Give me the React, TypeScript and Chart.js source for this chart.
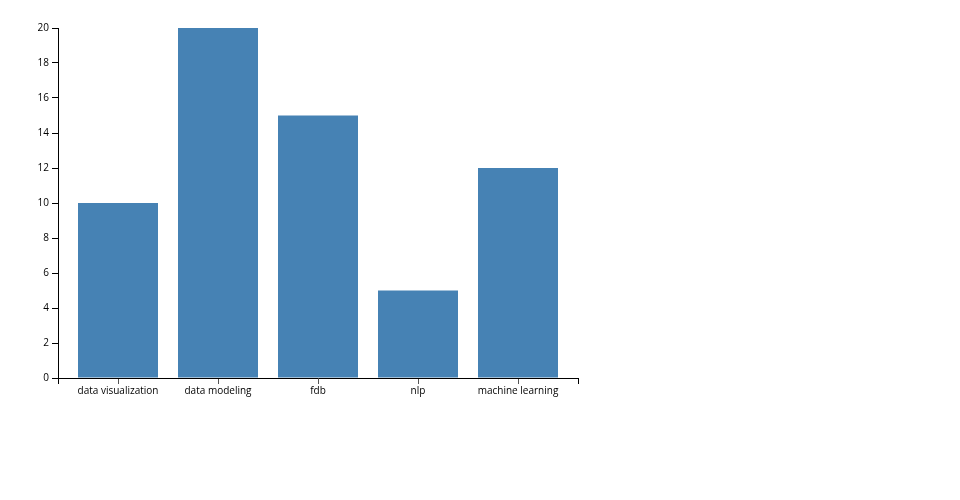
import React, { useEffect, useRef } from "react";
import { Chart, registerables } from "chart.js";

Chart.register(...registerables);

const categories = ["data visualization", "data modeling", "fdb", "nlp", "machine learning"];
const values = [10, 20, 15, 5, 12];
const yTicks = [0, 2, 4, 6, 8, 10, 12, 14, 16, 18, 20];

const outerTicks = {
  id: "outerTicks",
  afterDraw(chart: any) {
    const { ctx, chartArea } = chart;
    ctx.save();
    ctx.strokeStyle = "#000";
    ctx.lineWidth = 1;
    ctx.beginPath();
    [chartArea.left, chartArea.right].forEach((x: number) => {
      const px = Math.round(x) + 0.5;
      ctx.moveTo(px, chartArea.bottom);
      ctx.lineTo(px, chartArea.bottom + 6);
    });
    ctx.stroke();
    ctx.restore();
  },
};

export default function App() {
  const ref = useRef<HTMLCanvasElement | null>(null);
  useEffect(() => {
    if (!ref.current) return;
    const font = { family: "'Open Sans'", size: 10 };
    const chart = new Chart(ref.current, {
      type: "bar",
      data: {
        datasets: [
          {
            data: values.map((v, i) => ({ x: i, y: v })),
            backgroundColor: "#4682b4",
            barPercentage: 0.8,
            categoryPercentage: 1,
          },
        ],
      },
      options: {
        animation: false,
        responsive: false,
        devicePixelRatio: 1,
        layout: { padding: { left: 0, right: 382, top: 28, bottom: 92 } },
        plugins: { legend: { display: false }, tooltip: { enabled: false } },
        scales: {
          x: {
            type: "linear",
            offset: false,
            min: -0.6,
            max: categories.length - 0.4,
            afterBuildTicks: (s: any) => {
              s.ticks = categories.map((_, i) => ({ value: i }));
            },
            afterFit: (s: any) => {
              s.height = 30;
            },
            ticks: {
              autoSkip: false,
              maxRotation: 0,
              padding: 1,
              color: "#000",
              font,
              callback: (v: any) => categories[v],
            },
            grid: {
              offset: false,
              drawOnChartArea: false,
              tickLength: 6,
              color: "#555",
            },
            border: { color: "#000", width: 1 },
          },
          y: {
            min: 0,
            max: 20,
            afterBuildTicks: (s: any) => {
              s.ticks = yTicks.map((v) => ({ value: v }));
            },
            afterFit: (s: any) => {
              s.width = 58;
            },
            ticks: { padding: 3, color: "#000", font },
            grid: { drawOnChartArea: false, tickLength: 6, color: "#000" },
            border: { color: "#000", width: 1 },
          },
        },
      },
      plugins: [outerTicks],
    });
    return () => chart.destroy();
  }, []);
  return (
    <canvas
      ref={ref}
      width={960}
      height={500}
      style={{ position: "absolute", left: 0, top: 0, width: 960, height: 500 }}
    />
  );
}
